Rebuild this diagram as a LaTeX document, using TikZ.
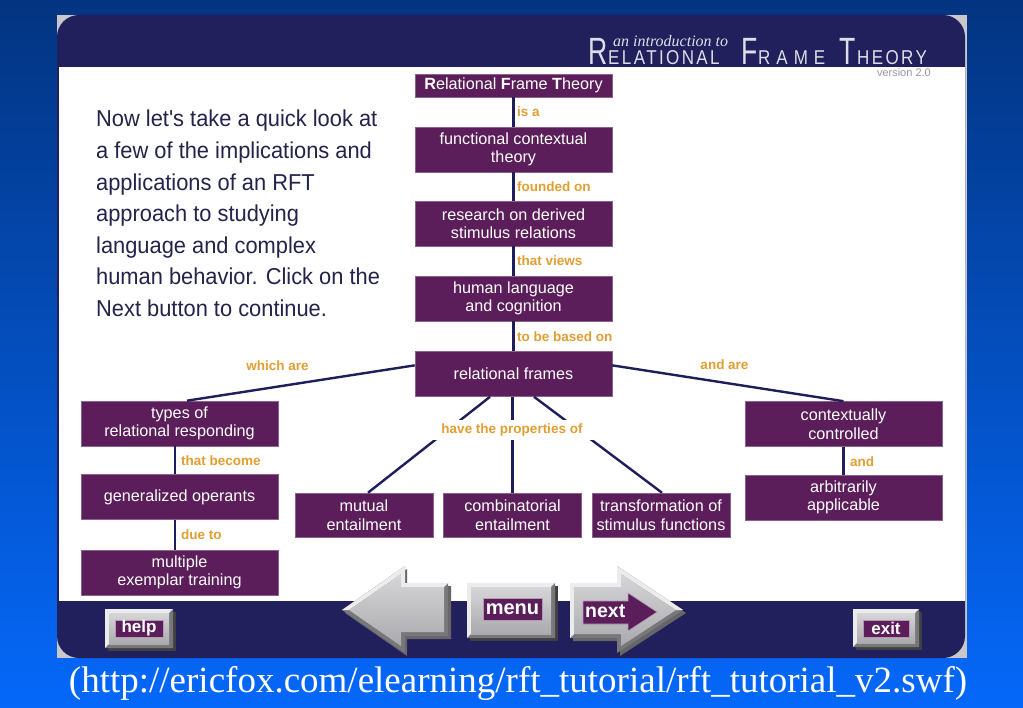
\documentclass[tikz,border=0pt]{standalone}
\usepackage{fontspec}
\setmainfont{Liberation Sans}
\newfontfamily\urlfont{Liberation Serif}
\newfontfamily\parafont[FakeStretch=0.95]{Liberation Sans}
\newfontfamily\titlefont[FakeStretch=0.7]{Liberation Sans}
\newfontfamily\titlesc[FakeStretch=0.85,LetterSpace=12]{Liberation Sans}
\newfontfamily\titlescw[FakeStretch=0.85,LetterSpace=30]{Liberation Sans}
\newfontfamily\introfont{Liberation Serif}
\usetikzlibrary{calc}
\definecolor{bgtop}{RGB}{3,52,128}
\definecolor{bgmid}{RGB}{6,88,222}
\definecolor{bgbot}{RGB}{5,104,250}
\definecolor{panelnavy}{RGB}{33,31,92}
\definecolor{panelgrey}{RGB}{200,200,204}
\definecolor{boxp}{RGB}{92,30,90}
\definecolor{linenavy}{RGB}{30,30,90}
\definecolor{lblorange}{RGB}{225,158,50}
\definecolor{paranavy}{RGB}{35,35,75}
\definecolor{titlec}{RGB}{222,222,232}
\definecolor{versionc}{RGB}{150,150,170}
\definecolor{btnlight}{RGB}{236,236,236}
\definecolor{btndark}{RGB}{120,120,124}
\definecolor{btnface1}{RGB}{214,214,216}
\definecolor{btnface2}{RGB}{170,170,174}
\newcommand\bevbox[4]{%
  \fill[black!75] (#1+3,#2+3) rectangle (#3+3,#4+3);
  \fill[btnlight] (#1,#2) rectangle (#3,#4);
  \fill[btndark] (#3,#2) -- (#3,#4) -- (#1,#4) -- (#1+4,#4-4) -- (#3-4,#4-4) -- (#3-4,#2+4) -- cycle;
  \shade[top color=btnface1,bottom color=btnface2] (#1+4,#2+4) rectangle (#3-4,#4-4);
}
\begin{document}
\begin{tikzpicture}[x=1pt,y=-1pt,
  box/.style={fill=boxp, draw=boxp!70!white, line width=0.6pt, text=white, inner sep=0pt,
    align=center, font=\fontsize{16.2}{18.5}\selectfont, minimum width=197pt, minimum height=45pt},
  sbox/.style={box, minimum width=138pt, minimum height=44pt},
  lbl/.style={text=lblorange, font=\bfseries\fontsize{13.5}{15}\selectfont, inner sep=0pt},
  conn/.style={draw=linenavy, line width=2.4pt},
  para/.style={anchor=base west, inner sep=0pt, text=paranavy, font=\parafont\fontsize{23}{26}\selectfont},
  btnlbl/.style={fill=boxp, draw=boxp!45!white, line width=0.6pt, text=white, inner sep=0pt, font=\bfseries\fontsize{17}{18}\selectfont},
  ttl/.style={anchor=base west, inner sep=0pt, text=titlec}
]
\useasboundingbox (0,0) rectangle (1023,708);
\shade[top color=bgtop, middle color=bgmid, bottom color=bgbot] (0,0) rectangle (1023,708);
% panel
\fill[panelgrey] (57,15) rectangle (967,658);
\fill[panelnavy, rounded corners=22pt] (57,15) rectangle (965,658);
\fill[white] (58.5,67) rectangle (965,601);
% title
\node[ttl, font=\titlefont\fontsize{38}{38}\selectfont] (tR) at (588,65) {R};
\node[ttl, font=\titlesc\fontsize{20}{20}\selectfont] (tE) at (608,65) {ELATIONAL};
\node[ttl, font=\introfont\itshape\fontsize{16}{16}\selectfont] (tI) at (613,47) {an introduction to};
\node[ttl, font=\titlefont\fontsize{38}{38}\selectfont] (tF) at (741,65) {F};
\node[ttl, font=\titlescw\fontsize{20}{20}\selectfont] (tRa) at (758,65) {RAME};
\node[ttl, font=\titlefont\fontsize{38}{38}\selectfont] (tT) at (839,65) {T};
\node[ttl, font=\titlesc\fontsize{20}{20}\selectfont] (tH) at (857,65) {HEORY};
\node[anchor=base east, inner sep=0pt, text=versionc, font=\fontsize{11}{12}\selectfont] (ver) at (931,77) {version 2.0};
% paragraph
\node[para] (p1) at (96,127) {Now let's take a quick look at};
\node[para] (p2) at (96,158.6) {a few of the implications and};
\node[para] (p3) at (96,190.2) {applications of an RFT};
\node[para] (p4) at (96,221.8) {approach to studying};
\node[para] (p5) at (96,253.4) {language and complex};
\node[para] (p6) at (96,285) {human behavior. Click on the};
\node[para] (p7) at (96,316.6) {Next button to continue.};
% boxes
\node[box, minimum height=23pt] (rft) at (513.5,85.5) {{\bfseries R}elational {\bfseries F}rame {\bfseries T}heory};
\node[box] (fct) at (513.5,149.5) {functional contextual\\theory};
\node[box] (res) at (513.5,223.5) {research on derived\\stimulus relations};
\node[box] (hlc) at (513.5,298.5) {human language\\and cognition};
\node[box] (rf) at (513.5,374) {relational frames};
\node[box] (types) at (179.5,423.5) {types of\\relational responding};
\node[box] (gen) at (179.5,497) {generalized operants};
\node[box] (met) at (179.5,572.5) {multiple\\exemplar training};
\node[sbox] (mut) at (364,515) {mutual\\entailment};
\node[sbox] (comb) at (512.5,515) {combinatorial\\entailment};
\node[sbox] (trans) at (661,515) {transformation of\\stimulus functions};
\node[box] (cc) at (843.5,424) {contextually\\controlled};
\node[box] (aa) at (843.5,497.5) {arbitrarily\\applicable};
% connectors
\draw[conn] (rft.south) -- (fct.north);
\draw[conn] (fct.south) -- (res.north);
\draw[conn] (res.south) -- (hlc.north);
\draw[conn] (hlc.south) -- (rf.north);
\draw[conn] (rf.175) -- ([xshift=7.5pt]types.north);
\draw[conn] (rf.5) -- (cc.north);
\draw[conn] ([xshift=-23.5pt]rf.south) -- ([xshift=4pt]mut.north);
\draw[conn] ([xshift=-1pt]rf.south) -- (comb.north);
\draw[conn] ([xshift=20.5pt]rf.south) -- ([xshift=1pt]trans.north);
\draw[conn] ([xshift=-4.5pt]types.south) -- ([xshift=-4.5pt]gen.north);
\draw[conn] ([xshift=-4.5pt]gen.south) -- ([xshift=-4.5pt]met.north);
\draw[conn] (cc.south) -- (aa.north);
% labels
\node[lbl, anchor=base west] (l1) at (517,117) {is a};
\node[lbl, anchor=base west] (l2) at (517,192) {founded on};
\node[lbl, anchor=base west] (l3) at (517,266) {that views};
\node[lbl, anchor=base west] (l4) at (517,342) {to be based on};
\node[lbl, anchor=base] (l5) at (277.5,371) {which are};
\node[lbl, anchor=base] (l6) at (724.5,370) {and are};
\node[lbl, fill=white, inner xsep=16pt, inner ysep=4pt] (l7) at (512,430) {have the properties of};
\node[lbl, anchor=base west] (l8) at (181,465) {that become};
\node[lbl, anchor=base west] (l9) at (181,539) {due to};
\node[lbl, anchor=base west] (l10) at (850,466) {and};
% buttons
\bevbox{105}{609}{173}{648}
\node[btnlbl, minimum width=48pt, minimum height=17pt] (help) at (139,628.5) {help};
\bevbox{853}{609}{919}{647}
\node[btnlbl, minimum width=46pt, minimum height=17pt] (exit) at (886,628.5) {exit};
\bevbox{467}{583}{555}{638}
\node[btnlbl, minimum width=59pt, minimum height=22pt, font=\bfseries\fontsize{20}{21}\selectfont] (menu) at (512.5,609) {menu};
% left arrow
\fill[black!60] (345,613) -- (407,569) -- (407,586) -- (451,586) -- (451,639) -- (407,639) -- (407,656) -- cycle;
\fill[btndark] (342,610) -- (405,566) -- (405,583) -- (448,583) -- (448,636) -- (405,636) -- (405,653) -- cycle;
\fill[btnlight] (342,610) -- (405,566) -- (405,583) -- (448,583) -- (444,587) -- (401,587) -- (401,574) -- (349,610) -- cycle;
\shade[top color=btnface1, bottom color=btnface2] (349,610) -- (401,574) -- (401,587) -- (444,587) -- (444,632) -- (401,632) -- (401,646) -- cycle;
% right arrow
\fill[black!60] (573,586) -- (620,586) -- (620,569) -- (686,613) -- (620,656) -- (620,641) -- (573,641) -- cycle;
\fill[btndark] (570,583) -- (617,583) -- (617,566) -- (683,610) -- (617,653) -- (617,638) -- (570,638) -- cycle;
\fill[btnlight] (570,583) -- (617,583) -- (617,566) -- (683,610) -- (676,610) -- (621,574) -- (621,587) -- (574,587) -- (574,634) -- (570,638) -- cycle;
\shade[top color=btnface1, bottom color=btnface2] (574,587) -- (621,587) -- (621,574) -- (676,610) -- (621,646) -- (621,634) -- (574,634) -- cycle;
\fill[boxp, draw=boxp!45!white, line width=0.6pt] (583,601) -- (628,601) -- (628,593) -- (657,612) -- (628,631) -- (628,624) -- (583,624) -- cycle;
\node[anchor=west, inner sep=0pt, text=white, font=\bfseries\fontsize{19.5}{20}\selectfont] (next) at (585,611) {next};
% source line
\node[anchor=base, inner sep=0pt, text=white, font=\urlfont\fontsize{37}{40}\selectfont] (url) at (518,692) {(http://ericfox.com/elearning/rft\_tutorial/rft\_tutorial\_v2.swf)};
\end{tikzpicture}
\end{document}
